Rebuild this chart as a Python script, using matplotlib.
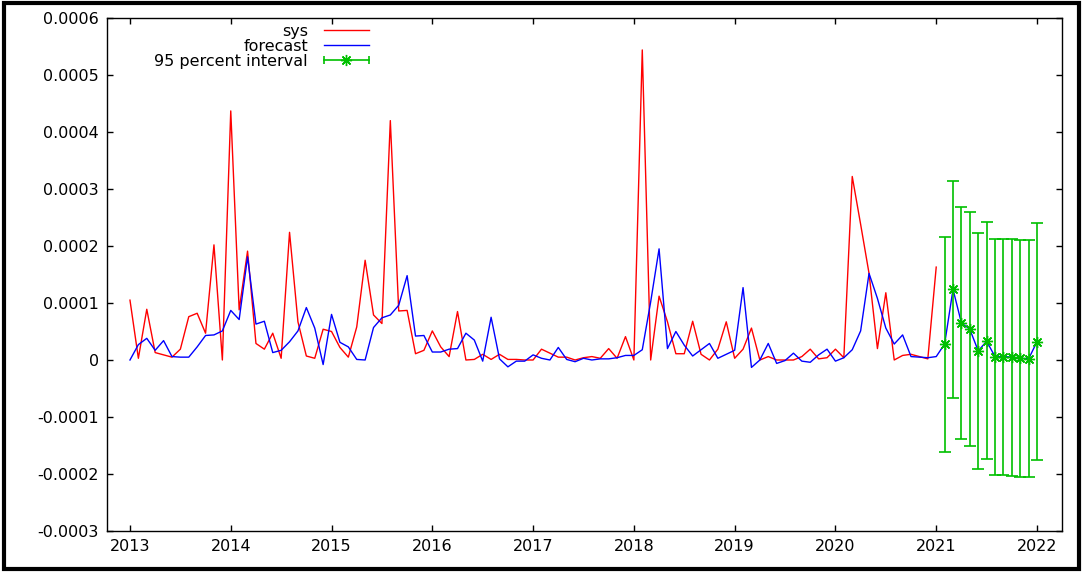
import numpy as np
import matplotlib.pyplot as plt
from matplotlib.lines import Line2D
from matplotlib.patches import Rectangle
from matplotlib.legend_handler import HandlerLine2D
from matplotlib.ticker import FuncFormatter

# monthly series, values in units of 1e-4
sys_vals = np.array([
    1.05, 0.03, 0.89, 0.13, 0.09, 0.05, 0.19, 0.76, 0.82, 0.47, 2.02, 0.00,
    4.37, 0.88, 1.91, 0.29, 0.19, 0.47, 0.03, 2.24, 0.67, 0.07, 0.03, 0.54,
    0.50, 0.22, 0.05, 0.58, 1.75, 0.79, 0.64, 4.20, 0.86, 0.87, 0.11, 0.17,
    0.51, 0.23, 0.06, 0.85, 0.00, 0.01, 0.10, 0.01, 0.10, 0.01, 0.01, 0.00,
    0.00, 0.19, 0.12, 0.05, 0.05, 0.00, 0.04, 0.06, 0.03, 0.20, 0.03, 0.41,
    0.00, 5.44, 0.00, 1.12, 0.67, 0.11, 0.11, 0.68, 0.10, 0.00, 0.19, 0.67,
    0.03, 0.19, 0.56, 0.00, 0.06, 0.00, 0.00, 0.00, 0.06, 0.19, 0.02, 0.04,
    0.19, 0.04, 3.22, 2.38, 1.52, 0.20, 1.18, 0.00, 0.08, 0.10, 0.06, 0.02,
    1.63,
]) * 1e-4

forecast_vals = np.array([
    0.00, 0.27, 0.38, 0.17, 0.34, 0.06, 0.05, 0.05, 0.23, 0.43, 0.44, 0.51,
    0.87, 0.71, 1.81, 0.63, 0.68, 0.13, 0.17, 0.32, 0.51, 0.92, 0.56, -0.08,
    0.80, 0.31, 0.23, 0.01, 0.00, 0.57, 0.74, 0.79, 0.96, 1.48, 0.42, 0.43,
    0.14, 0.14, 0.19, 0.20, 0.47, 0.35, -0.02, 0.75, 0.02, -0.12, -0.02, -0.02,
    0.09, 0.03, 0.00, 0.22, 0.01, -0.03, 0.03, 0.00, 0.02, 0.02, 0.04, 0.08,
    0.08, 0.18, 1.02, 1.95, 0.20, 0.50, 0.26, 0.07, 0.18, 0.29, 0.03, 0.10,
    0.17, 1.27, -0.13, 0.00, 0.29, -0.06, -0.01, 0.12, -0.02, -0.04, 0.09, 0.19,
    -0.02, 0.04, 0.18, 0.51, 1.52, 1.08, 0.56, 0.28, 0.44, 0.06, 0.05, 0.04,
    0.06,
    # out-of-sample months
    0.28, 1.24, 0.65, 0.54, 0.16, 0.33, 0.06, 0.06, 0.05, 0.03, 0.02, 0.32,
]) * 1e-4

interval_low = np.array([
    -1.61, -0.66, -1.38, -1.51, -1.92, -1.74, -2.02, -2.02, -2.04, -2.05, -2.06, -1.76,
]) * 1e-4
interval_high = np.array([
    2.15, 3.14, 2.68, 2.59, 2.22, 2.42, 2.13, 2.13, 2.12, 2.11, 2.10, 2.41,
]) * 1e-4

years = list(range(2013, 2023))

t_sys = 2013 + np.arange(len(sys_vals)) / 12
t_fc = 2013 + np.arange(len(forecast_vals)) / 12
n_out = len(interval_low)
t_out = t_fc[-n_out:]
fc_out = forecast_vals[-n_out:]

green = "#00c000"
plt.rcParams['font.family'] = 'DejaVu Sans'

fig = plt.figure(figsize=(10.83, 5.72), dpi=100)
ax = fig.add_axes([0.0988, 0.0717, 0.9806 - 0.0988, 0.9685 - 0.0717])

sys_line, = ax.plot(t_sys, sys_vals, color="#ff0000", lw=1.0)
fc_line, = ax.plot(t_fc, forecast_vals, color="#0000ff", lw=1.0)
ax.errorbar(t_out, fc_out,
            yerr=[fc_out - interval_low, interval_high - fc_out],
            fmt="none", ecolor=green, elinewidth=1.2, capsize=4, capthick=1.2)
star, = ax.plot(t_out, fc_out, ls="none", marker=(8, 2, 0), ms=8, mew=1.0,
                color=green)

# legend key for the interval: bar with end caps and the star in the middle
bar_key = Line2D([], [], color=green, lw=1.2, marker="|", ms=6, mew=1.2)
leg = ax.legend([sys_line, fc_line, (bar_key, star)],
                ["sys", "forecast", "95 percent interval"],
                loc="upper right", bbox_to_anchor=(0.279, 0.989), frameon=False,
                markerfirst=False, handlelength=3.4, handletextpad=0.7,
                labelspacing=0.0, borderpad=0, borderaxespad=0, fontsize=11.5,
                numpoints=2,
                handler_map={star: HandlerLine2D(numpoints=1)})

ax.set_xlim(2012.772, 2022.248)
ax.set_ylim(-0.0003, 0.0006)
ax.set_xticks(years)
ax.set_xticklabels([str(y) for y in years])
ax.set_yticks(np.arange(-3, 7) * 1e-4)
ax.yaxis.set_major_formatter(FuncFormatter(lambda v, p: "%g" % round(v, 6)))
ax.tick_params(direction="in", top=True, right=True, length=4, width=1,
               pad=6, labelsize=11.5)
for s in ax.spines.values():
    s.set_linewidth(1.0)

# frame around the whole image
fig.patches.append(Rectangle((0.004, 0.006), 0.992, 0.988,
                             transform=fig.transFigure, fill=False,
                             ec="black", lw=3.0))

fig.savefig("out.png", dpi=100)
